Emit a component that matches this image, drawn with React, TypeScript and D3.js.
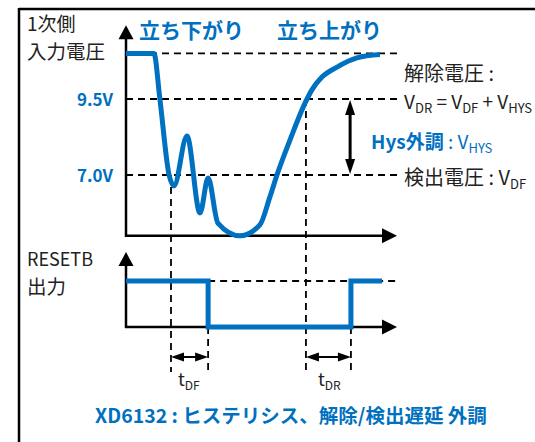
import React from 'react';
import * as d3 from 'd3';

// ---------- data ----------
const inputTime = [0, 10.3, 12.5, 15.9, 17.7, 22.5, 27.3, 30.3, 33.9, 42.1, 49.4, 53.1, 55.7, 60.5, 66.1, 68.6, 72.3, 77.9, 85.2, 93.7];
const inputVoltage = [11, 11, 9.5, 7.0, 6.64, 8.28, 5.75, 6.9, 5.42, 5.0, 5.36, 6.28, 7.0, 8.15, 9.37, 9.8, 10.22, 10.55, 10.85, 10.96];
const levelVoltages = [11, 9.5, 7.0];
const levelLabels = ['', '9.5V', '7.0V'];
const resetTime = [0, 30.3, 30.3, 83.0, 83.0, 94.5];
const resetLevel = [1, 1, 0, 0, 1, 1];
const detectTime = 16.6;
const releaseTime = 66.4;
const fallTime = 30.3;
const riseTime = 83.0;
const hysArrowTime = 82.7;
const timeEnd = 100;
const dashEnd = 100.4;
const vMin = 5;
const vAxisTop = 11.93;
const resetAxisTop = 1.63;

const BLUE = '#0070C0';
const FONT = '"Noto Sans CJK JP", "Noto Sans", sans-serif';

export default function App() {
  const x = d3.scaleLinear().domain([0, 100]).range([126, 397]);
  const yV = d3.scaleLinear().domain([5, 11]).range([235.8, 53.4]);
  const yR = d3.scaleLinear().domain([0, 1]).range([327, 281]);

  const curve = d3.line<number>()
    .x((_, i) => x(inputTime[i]))
    .y((d) => yV(d))
    .curve(d3.curveMonotoneX)(inputVoltage) as string;

  const reset = d3.line<number>()
    .x((_, i) => x(resetTime[i]))
    .y((d) => yR(d))(resetLevel) as string;

  const x0 = x(0);
  const xEnd = x(timeEnd);
  const dash = '7,5';
  const tAxisY = yR(0);
  const timingY = 357;
  const dashBottom = 372;

  const upArrow = (cx: number, tip: number, len = 14, hw = 7.5) =>
    `M${cx},${tip} L${cx - hw},${tip + len} L${cx + hw},${tip + len} Z`;
  const downArrow = (cx: number, tip: number, len = 14, hw = 7.5) =>
    `M${cx},${tip} L${cx - hw},${tip - len} L${cx + hw},${tip - len} Z`;
  const rightArrow = (tip: number, cy: number, len = 15, hw = 7.5) =>
    `M${tip},${cy} L${tip - len},${cy - hw} L${tip - len},${cy + hw} Z`;
  const leftArrow = (tip: number, cy: number, len = 15, hw = 7.5) =>
    `M${tip},${cy} L${tip + len},${cy - hw} L${tip + len},${cy + hw} Z`;

  const timing = (a: number, b: number) => {
    const xa = x(a), xb = x(b);
    return (
      <g>
        <line x1={xa + 6} x2={xb - 6} y1={timingY} y2={timingY} stroke="#000" strokeWidth={2} />
        <path d={leftArrow(xa, timingY, 13, 4.5)} fill="#000" />
        <path d={rightArrow(xb, timingY, 13, 4.5)} fill="#000" />
      </g>
    );
  };

  const hx = x(hysArrowTime);

  return (
    <svg width={535} height={442} style={{ position: 'absolute', left: 0, top: 0, background: '#fff' }} fontFamily={FONT}>
      {/* frame */}
      <line x1={19} x2={19} y1={8} y2={442} stroke="#000" strokeWidth={2.5} />
      <line x1={19} x2={535} y1={9} y2={9} stroke="#000" strokeWidth={2.5} />

      {/* level dashed lines */}
      {levelVoltages.map((v, i) => (
        <line key={'lv' + i} x1={x0} x2={x(dashEnd)} y1={yV(v)} y2={yV(v)} stroke="#000" strokeWidth={1.8} strokeDasharray={dash} />
      ))}
      <line x1={x(fallTime)} x2={x(dashEnd)} y1={yR(1)} y2={yR(1)} stroke="#000" strokeWidth={1.8} strokeDasharray={dash} />

      {/* vertical dashed */}
      <line x1={x(detectTime)} x2={x(detectTime)} y1={yV(7.0)} y2={dashBottom} stroke="#000" strokeWidth={1.8} strokeDasharray={dash} />
      <line x1={x(releaseTime)} x2={x(releaseTime)} y1={yV(9.5)} y2={dashBottom} stroke="#000" strokeWidth={1.8} strokeDasharray={dash} />
      <line x1={x(fallTime)} x2={x(fallTime)} y1={tAxisY} y2={dashBottom} stroke="#000" strokeWidth={1.8} strokeDasharray={dash} />
      <line x1={x(riseTime)} x2={x(riseTime)} y1={tAxisY} y2={dashBottom} stroke="#000" strokeWidth={1.8} strokeDasharray={dash} />

      {/* upper axes */}
      <line x1={x0} x2={x0} y1={yV(vMin) + 1} y2={yV(vAxisTop) + 12} stroke="#000" strokeWidth={2.5} />
      <path d={upArrow(x0, yV(vAxisTop))} fill="#000" />
      <line x1={x0 - 1} x2={xEnd - 12} y1={yV(vMin)} y2={yV(vMin)} stroke="#000" strokeWidth={2.5} />
      <path d={rightArrow(xEnd, yV(vMin))} fill="#000" />

      {/* lower axes */}
      <line x1={x0} x2={x0} y1={tAxisY + 1} y2={yR(resetAxisTop) + 12} stroke="#000" strokeWidth={2.5} />
      <path d={upArrow(x0, yR(resetAxisTop))} fill="#000" />
      <line x1={x0 - 1} x2={xEnd - 12} y1={tAxisY} y2={tAxisY} stroke="#000" strokeWidth={2.5} />
      <path d={rightArrow(xEnd, tAxisY)} fill="#000" />

      {/* hysteresis double arrow */}
      <line x1={hx} x2={hx} y1={yV(9.5) + 10} y2={yV(7.0) - 10} stroke="#000" strokeWidth={3} />
      <path d={upArrow(hx, yV(9.5) + 1, 15, 5)} fill="#000" />
      <path d={downArrow(hx, yV(7.0) - 1, 15, 5)} fill="#000" />

      {/* timing arrows */}
      {timing(detectTime, fallTime)}
      {timing(releaseTime, riseTime)}

      {/* series */}
      <path d={curve} fill="none" stroke={BLUE} strokeWidth={5} strokeLinejoin="round" />
      <path d={reset} fill="none" stroke={BLUE} strokeWidth={5} strokeLinejoin="miter" />

      {/* texts */}
      <g fill="#222" fontSize={20}>
        <text x={27} y={31} fontSize={19}>1次側</text>
        <text x={27} y={59} fontSize={19.5}>入力電圧</text>
        <text x={404} y={81}>解除電圧 :</text>
        <text x={404} y={185}>検出電圧 : V<tspan fontSize={13} dy={4}>DF</tspan></text>
        <text x={27} y={266} fontSize={18}>RESETB</text>
        <text x={27} y={294} fontSize={19.5}>出力</text>
        <text x={404} y={109} fontSize={19}>
          V<tspan fontSize={13} dy={4}>DR</tspan>
          <tspan dy={-4}> = V</tspan><tspan fontSize={13} dy={4}>DF</tspan>
          <tspan dy={-4}> + V</tspan><tspan fontSize={13} dy={4}>HYS</tspan>
        </text>
        <text x={178} y={386} fontSize={18}>t<tspan fontSize={12} dy={4}>DF</tspan></text>
        <text x={318} y={386} fontSize={18}>t<tspan fontSize={12} dy={4}>DR</tspan></text>
      </g>
      <g fill={BLUE}>
        <text x={139} y={38} fontSize={21} fontWeight="bold">立ち下がり</text>
        <text x={277} y={38} fontSize={21} fontWeight="bold">立ち上がり</text>
        {levelVoltages.map((v, i) => levelLabels[i] ? (
          <text key={'ll' + i} x={113} y={yV(v) + 7} fontSize={17} fontWeight="bold" textAnchor="end">{levelLabels[i]}</text>
        ) : null)}
        <text x={371} y={149} fontSize={19}>
          <tspan fontWeight="bold">Hys外調</tspan> : V<tspan fontSize={13} dy={4}>HYS</tspan>
        </text>
        <text x={95} y={423} fontSize={19.5} fontWeight="bold">XD6132 : ヒステリシス、解除/検出遅延 外調</text>
      </g>
    </svg>
  );
}
